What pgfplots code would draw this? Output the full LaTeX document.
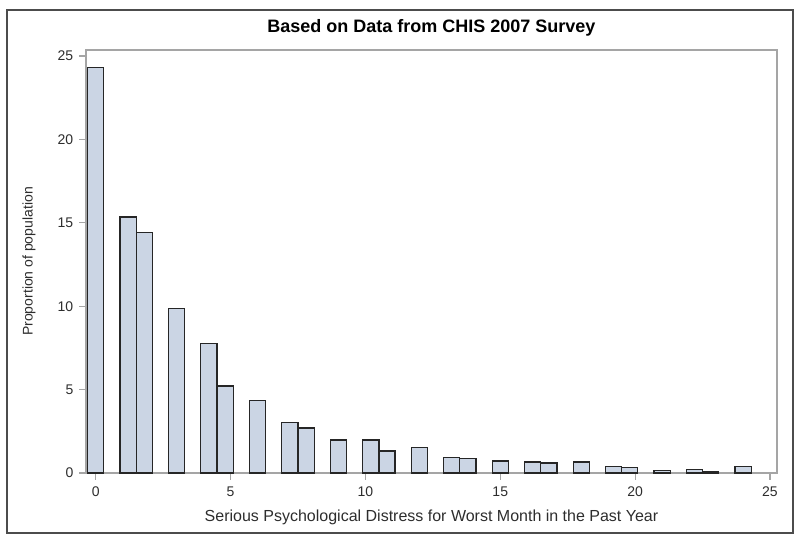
\documentclass[border=0pt]{standalone}
\usepackage{fontspec}
\setmainfont{Liberation Sans}
\usepackage{pgfplots}
\pgfplotsset{compat=1.18}
\definecolor{barfill}{RGB}{203,213,228}
\definecolor{frameg}{RGB}{165,165,165}
\definecolor{txtg}{RGB}{45,45,45}

\begin{document}
\begin{tikzpicture}
% picture is 800 x 551 px, 1px = 0.75pt
\useasboundingbox (0,0) rectangle (600pt,413.25pt);
\draw[line width=1.1pt, black!70] (5.25pt,13.5pt) rectangle (594.75pt,405.75pt);
\begin{axis}[
    at={(64.5pt,58.5pt)}, anchor=south west,
    scale only axis,
    width=518.25pt, height=317.25pt,
    xmin=-0.36, xmax=25.26,
    ymin=0, ymax=25.36,
    xtick={0,5,...,25}, ytick={0,5,...,25},
    xtick pos=bottom, ytick pos=left,
    tick align=outside,
    major tick length=5pt,
    axis line style={frameg, line width=0.8pt},
    tick style={frameg, line width=0.8pt},
    /pgf/number format/assume math mode=true,
    tick label style={font=\fontsize{10.5pt}{12pt}\selectfont, text=txtg},
    xticklabel style={yshift=-2pt},
    yticklabel style={xshift=-1pt},
    title={Based on Data from CHIS 2007 Survey},
    title style={font=\bfseries\fontsize{13.5pt}{15pt}\selectfont, at={(0.5,1)}, anchor=base, yshift=7.5pt},
    xlabel={Serious Psychological Distress for Worst Month in the Past Year},
    ylabel={Proportion of population},
    xlabel style={font=\fontsize{12pt}{14pt}\selectfont, text=txtg,
        at={(axis description cs:0.5,-0.104)}, anchor=center},
    ylabel style={font=\fontsize{10.5pt}{12pt}\selectfont, text=txtg,
        at={(axis description cs:-0.0825,0.5)}, anchor=center},
]
\addplot[ybar, bar width=0.6, bar shift=0pt, fill=barfill, draw=black!85, line width=0.9pt] coordinates {
    (0,24.30) (1.2,15.35) (1.8,14.43) (3.0,9.87) (4.2,7.78) (4.8,5.22)
    (6.0,4.34) (7.2,3.04) (7.8,2.70) (9.0,1.98) (10.2,1.98) (10.8,1.32)
    (12.0,1.52) (13.2,0.94) (13.8,0.86) (15.0,0.72) (16.2,0.66) (16.8,0.60)
    (18.0,0.66) (19.2,0.40) (19.8,0.34) (21.0,0.14) (22.2,0.20) (22.8,0.08)
    (24.0,0.40)
};
\end{axis}
\end{tikzpicture}
\end{document}
